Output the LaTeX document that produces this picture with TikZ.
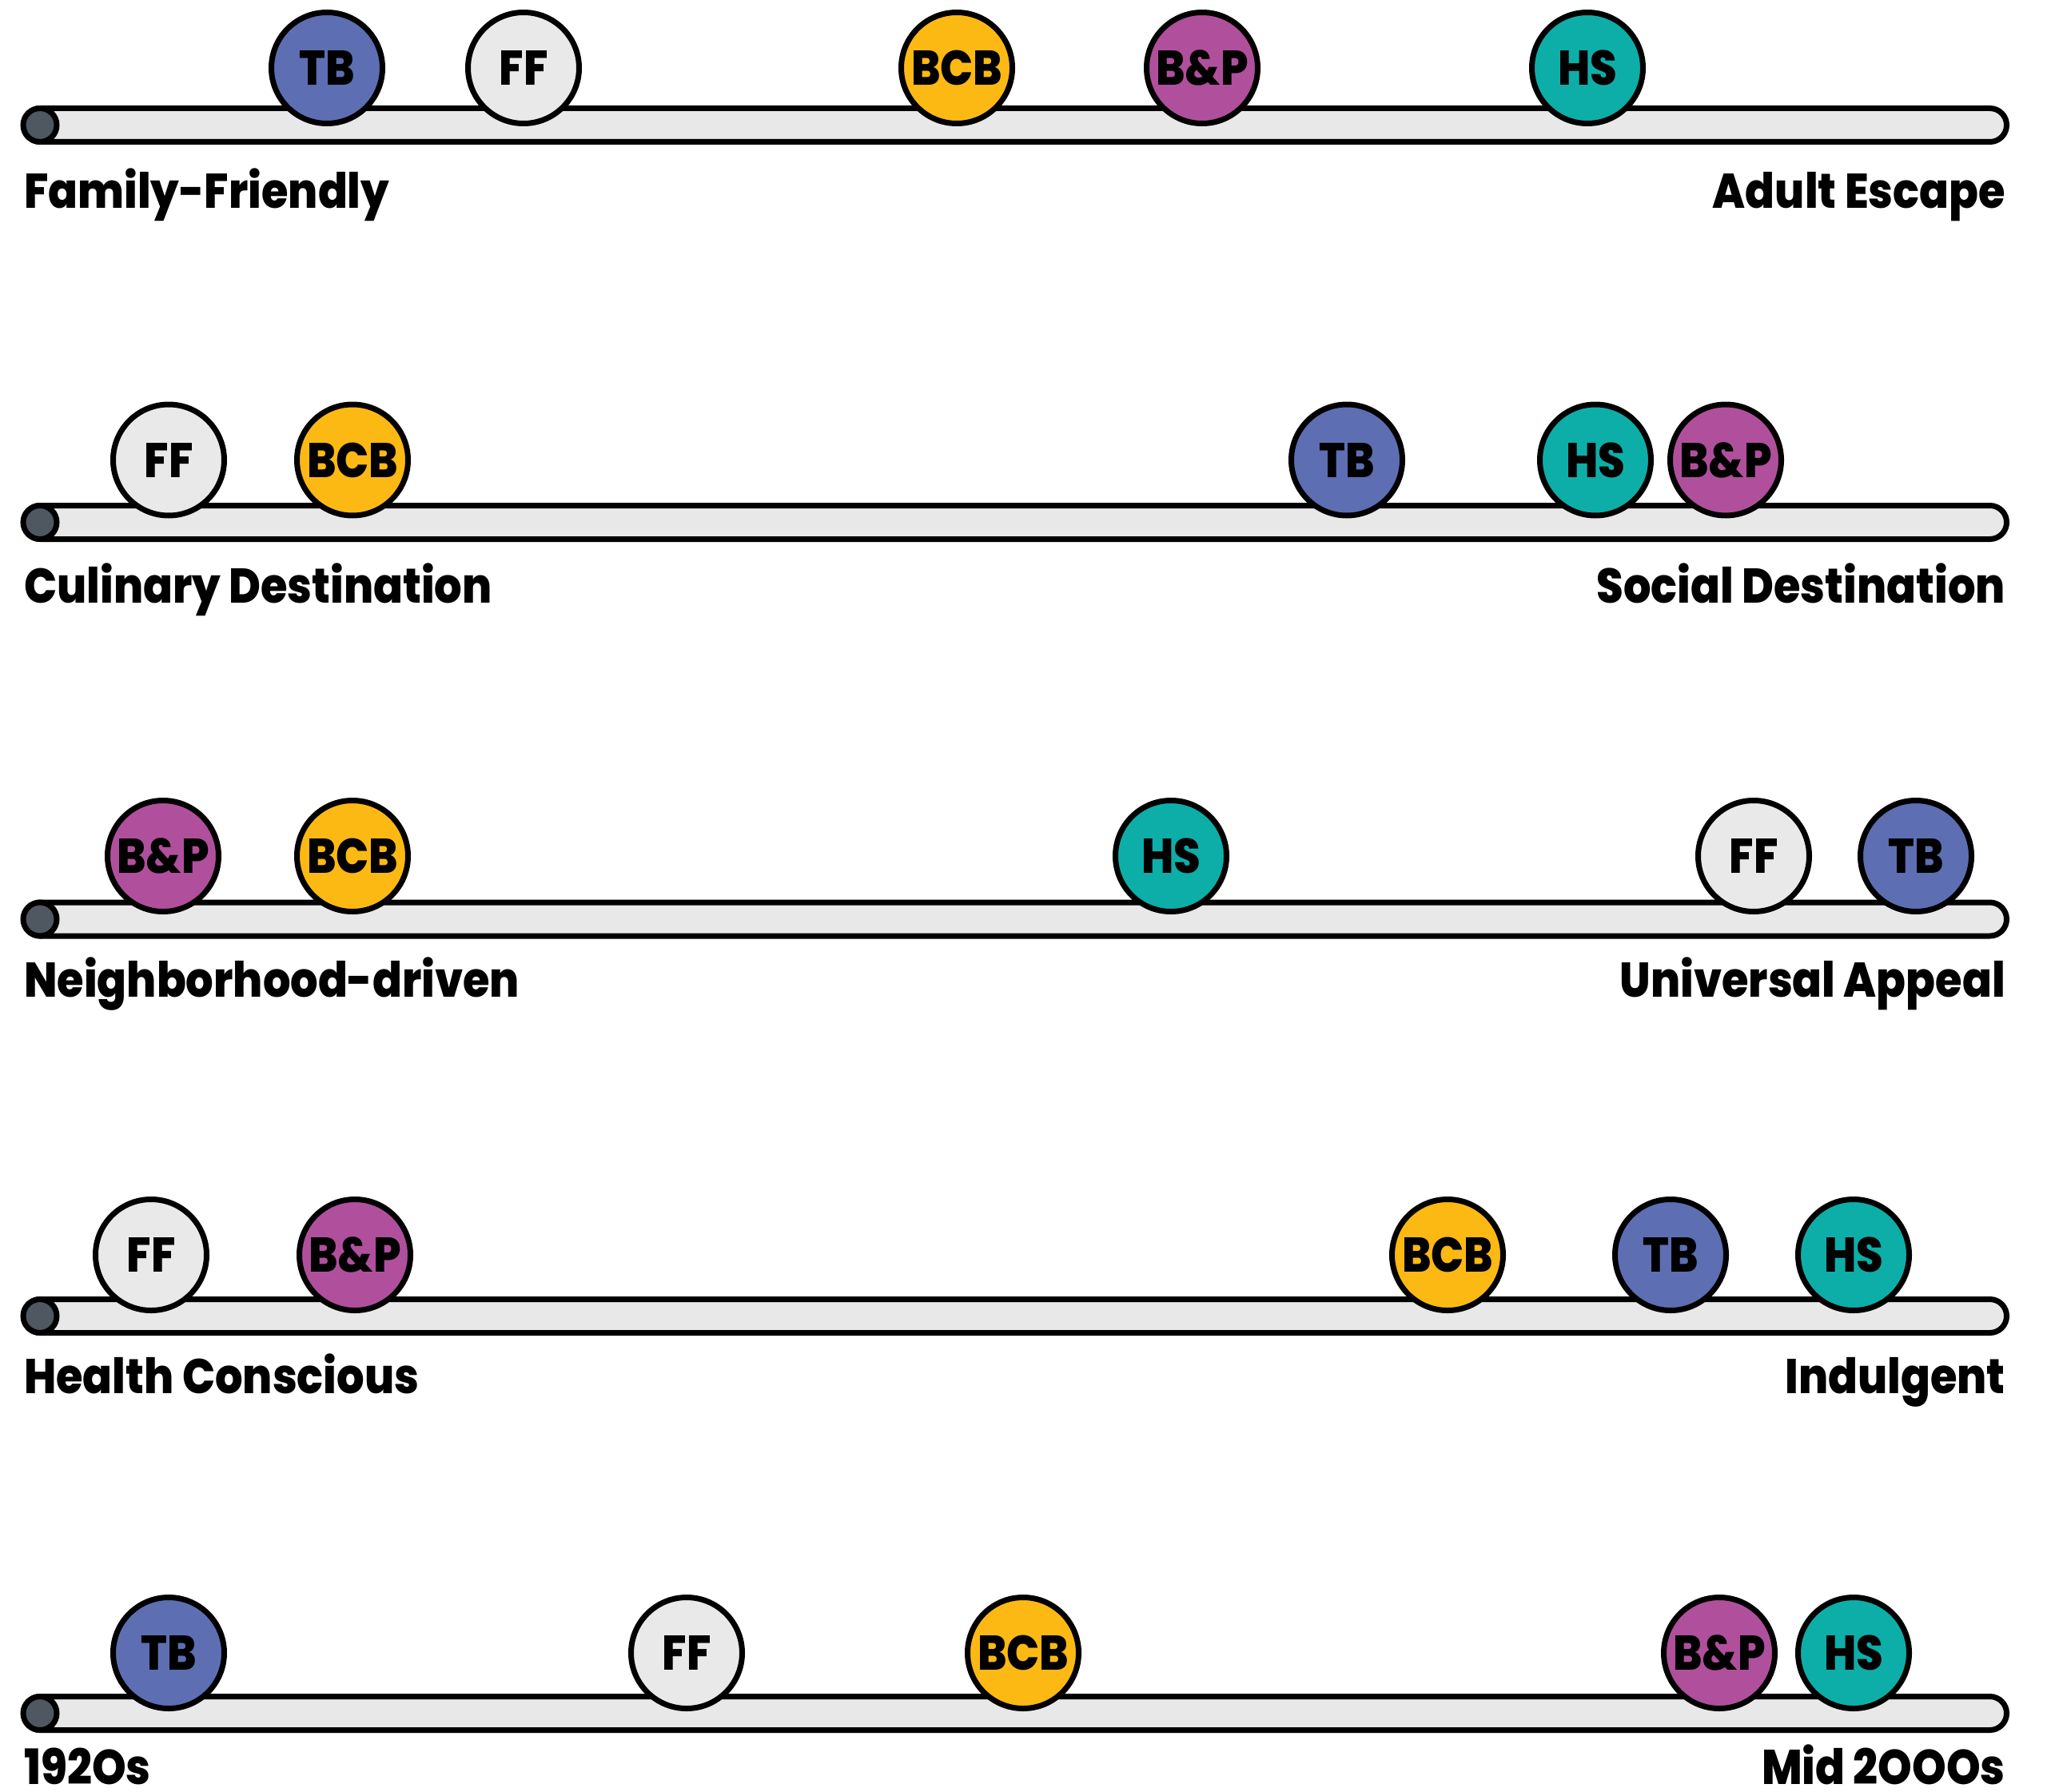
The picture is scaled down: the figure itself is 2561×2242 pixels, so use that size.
\documentclass[tikz,border=0pt]{standalone}
\usepackage{fontspec}
\setmainfont{Poppins}[UprightFont=* ExtraBold, BoldFont=* ExtraBold, FakeStretch=0.89]
\definecolor{cTB}{HTML}{5E6EB2}
\definecolor{cFF}{HTML}{E9E9E9}
\definecolor{cBCB}{HTML}{FDB913}
\definecolor{cBP}{HTML}{B0509C}
\definecolor{cHS}{HTML}{0EAEA8}
\definecolor{barfill}{HTML}{E8E8E8}
\definecolor{capfill}{HTML}{4F5861}
\tikzset{
  barstyle/.style={draw=black, line width=7pt, fill=barfill, rounded corners=21pt},
  capstyle/.style={circle, draw=black, line width=7pt, fill=capfill, minimum size=42pt, inner sep=0pt},
  dot/.style={circle, draw=black, line width=7pt, minimum size=139pt, inner sep=0pt,
    font=\fontsize{61}{61}\selectfont, text=black},
  lab/.style={inner sep=0pt, font=\fontsize{61}{61}\selectfont, text=black}
}
% #1 name, #2 bar centre y, #3 left label, #4 right label, #5 label baseline y
\newcommand\mytrack[5]{%
  \draw[barstyle] (29.5,{#2-21}) rectangle (2510.5,{#2+21});
  \node[capstyle] (#1cap) at (50,#2) {};
  \node[lab, anchor=base west] (#1l) at (30,#5) {#3};
  \node[lab, anchor=base east] (#1r) at (2509,#5) {#4};
}
\begin{document}
\begin{tikzpicture}[x=1pt,y=-1pt]
\useasboundingbox (0,0) rectangle (2561,2242);
% Row 1
\mytrack{a}{156.5}{Family-Friendly}{Adult Escape}{261}
\node[dot, fill=cTB]  (aTB)  at (409,85) {TB};
\node[dot, fill=cFF]  (aFF)  at (655,85) {FF};
\node[dot, fill=cBCB] (aBCB) at (1197,85) {BCB};
\node[dot, fill=cBP]  (aBP)  at (1504,85) {B\&P};
\node[dot, fill=cHS]  (aHS)  at (1986,85) {HS};
% Row 2
\mytrack{b}{653.5}{Culinary Destination}{Social Destination}{754}
\node[dot, fill=cFF]  (bFF)  at (211,575.5) {FF};
\node[dot, fill=cBCB] (bBCB) at (441,575.5) {BCB};
\node[dot, fill=cTB]  (bTB)  at (1685,575.5) {TB};
\node[dot, fill=cHS]  (bHS)  at (1996,575.5) {HS};
\node[dot, fill=cBP]  (bBP)  at (2159,575.5) {B\&P};
% Row 3
\mytrack{c}{1150}{Neighborhood-driven}{Universal Appeal}{1247}
\node[dot, fill=cBP]  (cBP)  at (204,1071) {B\&P};
\node[dot, fill=cBCB] (cBCB) at (441,1071) {BCB};
\node[dot, fill=cHS]  (cHS)  at (1465,1071) {HS};
\node[dot, fill=cFF]  (cFF)  at (2194,1071) {FF};
\node[dot, fill=cTB]  (cTB)  at (2397,1071) {TB};
% Row 4
\mytrack{d}{1646.5}{Health Conscious}{Indulgent}{1743}
\node[dot, fill=cFF]  (dFF)  at (189,1570) {FF};
\node[dot, fill=cBP]  (dBP)  at (444,1570) {B\&P};
\node[dot, fill=cBCB] (dBCB) at (1811,1570) {BCB};
\node[dot, fill=cTB]  (dTB)  at (2090,1570) {TB};
\node[dot, fill=cHS]  (dHS)  at (2319,1570) {HS};
% Row 5
\mytrack{e}{2143.5}{192Os}{Mid 2OOOs}{2232}
\node[dot, fill=cTB]  (eTB)  at (211,2068) {TB};
\node[dot, fill=cFF]  (eFF)  at (859,2068) {FF};
\node[dot, fill=cBCB] (eBCB) at (1280,2068) {BCB};
\node[dot, fill=cBP]  (eBP)  at (2151,2068) {B\&P};
\node[dot, fill=cHS]  (eHS)  at (2319,2068) {HS};
\end{tikzpicture}
\end{document}
